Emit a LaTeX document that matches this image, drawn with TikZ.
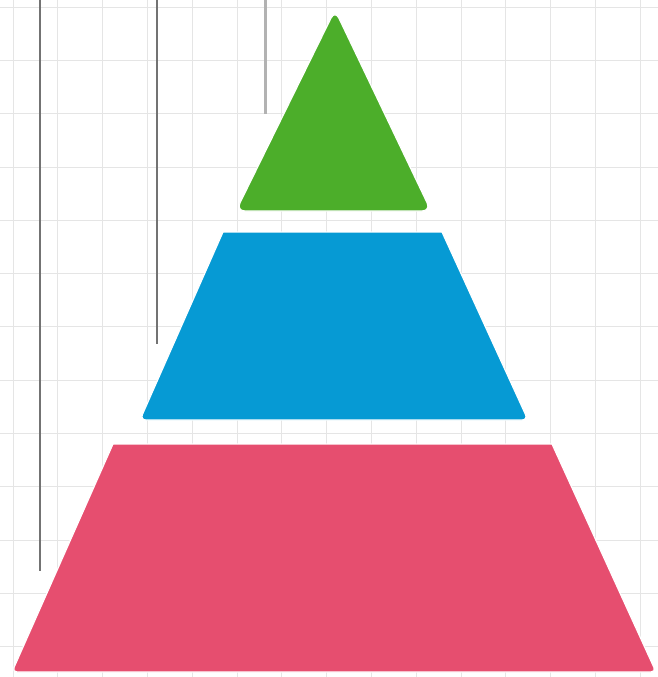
\documentclass[tikz,border=0pt]{standalone}
\begin{document}
\begin{tikzpicture}[x=1pt,y=-1pt,
  gridline/.style={draw=black!10,line width=0.8pt},
  guide/.style={draw=black!55,line width=2pt},
  guidelight/.style={draw=black!30,line width=3pt},
  tier/.style={draw=white,line width=1.2pt,line join=round}]
\definecolor{tgreen}{RGB}{76,174,42}
\definecolor{tblue}{RGB}{6,154,212}
\definecolor{tred}{RGB}{230,78,111}
\useasboundingbox (0,0) rectangle (658,677);
\fill[white] (0,0) rectangle (658,677);
% grid
\foreach \i in {0,...,14} {\draw[gridline] ({13+44.8*\i},0) -- ({13+44.8*\i},677);}
\foreach \j in {0,...,12} {\draw[gridline] (0,{7+53.3*\j}) -- (658,{7+53.3*\j});}
% guide lines
\coordinate (g1t) at (40,0);   \coordinate (g1b) at (40,571);
\coordinate (g2t) at (157,0);  \coordinate (g2b) at (157,344);
\coordinate (g3t) at (265,0);  \coordinate (g3b) at (265,114);
\draw[guide] (g1t) -- (g1b);
\draw[guide] (g2t) -- (g2b);
\draw[guidelight] (g3t) -- (g3b);
% green top tier
\coordinate (ga) at (335,10);
\coordinate (gl) at (236,211);
\coordinate (gr) at (431,211);
\filldraw[tier,fill=tgreen,rounded corners=9pt] (ga) -- (gr) -- (gl) -- cycle;
% blue middle tier
\coordinate (btl) at (223,232);
\coordinate (btr) at (442,232);
\coordinate (bbr) at (528,420);
\coordinate (bbl) at (140,420);
\filldraw[tier,fill=tblue] (btl) -- (btr) [rounded corners=6pt] -- (bbr) -- (bbl) [sharp corners] -- cycle;
% red bottom tier
\coordinate (rtl) at (113,444);
\coordinate (rtr) at (552,444);
\coordinate (rbr) at (656,672);
\coordinate (rbl) at (12,672);
\filldraw[tier,fill=tred] (rtl) -- (rtr) [rounded corners=5pt] -- (rbr) -- (rbl) [sharp corners] -- cycle;
\end{tikzpicture}
\end{document}
